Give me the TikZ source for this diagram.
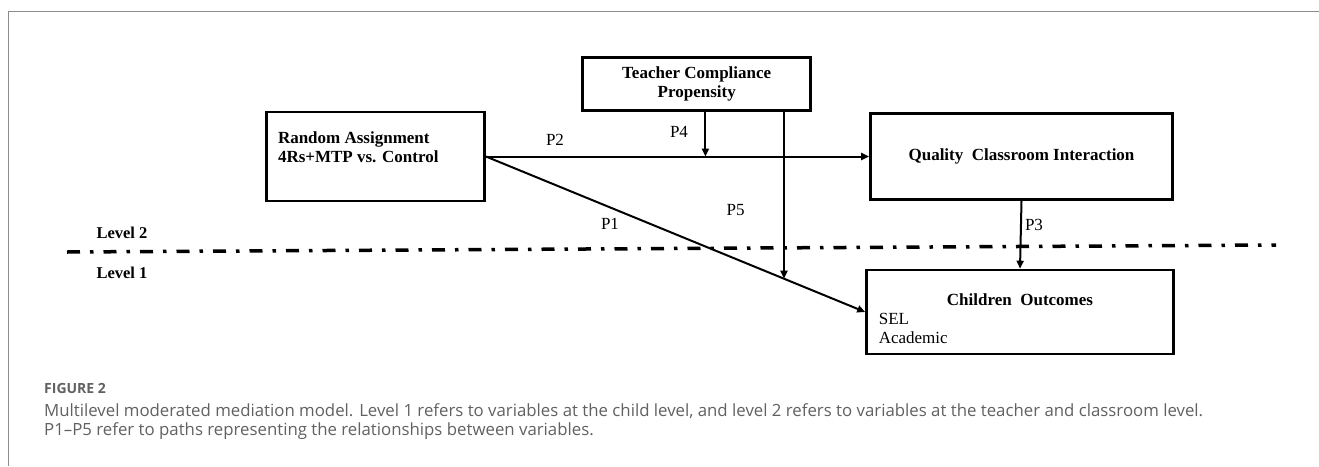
\documentclass[tikz,border=0pt]{standalone}
\usepackage{fontspec}
\setmainfont{Liberation Serif}
\newfontfamily\capfont{Open Sans}
\usepackage{tikz}
\usetikzlibrary{calc,arrows.meta,positioning}
\definecolor{framegrey}{gray}{0.55}
\definecolor{capgrey}{gray}{0.38}

\begin{document}
\begin{tikzpicture}[x=1pt,y=-1pt]

\tikzset{box/.style={draw=black,line width=2.6pt,inner sep=0pt,align=center,font=\fontsize{17}{19}\selectfont\bfseries},
boxtext/.style={inner sep=0pt,align=left,font=\fontsize{17}{19}\selectfont},
path/.style={line width=2pt,-{Triangle[length=8pt,width=7pt]}},
plabel/.style={inner sep=0pt,font=\fontsize{17}{19}\selectfont},
levellabel/.style={inner sep=0pt,font=\fontsize{16.5}{19}\selectfont\bfseries}}

\useasboundingbox[fill=white] (0,0) rectangle (1319,466);

% Frame
\draw[framegrey,line width=1.2pt] (8.5,466) -- (8.5,11.5) -- (1319,11.5);

% Boxes
\node[box,minimum width=218,minimum height=89] (ra) at (375.6,156.5) {};
\node[box,minimum width=228,minimum height=53] (tcp) at (696.7,84) {Teacher Compliance\\Propensity};
\node[box,minimum width=302,minimum height=86] (qci) at (1021.5,156.5) {Quality\ \ Classroom Interaction};
\node[box,minimum width=307,minimum height=84] (co) at (1020,312) {};

% Text in the boxes
\node[boxtext,anchor=west,font=\fontsize{17}{19}\selectfont\bfseries] (raText) at (277.8,147.5) {Random Assignment\\4Rs+MTP vs. Control};
\node[boxtext,font=\fontsize{17}{19}\selectfont\bfseries] (coTitle) at (1020,300) {Children\ \ Outcomes};
\node[boxtext,anchor=west] (coItems) at (878.6,328.5) {SEL\\Academic};

% Paths
\coordinate (p4end) at (705.4,156.5);
\coordinate (p5bot) at (784,400);
\coordinate (p5end) at (intersection of ra.east--co.west and {784,100}--p5bot);
\draw[path] (ra.east) -- (qci.west);
\draw[path] (ra.east) -- (co.west);
\draw[path] (tcp.south -| p4end) -- (p4end);
\draw[path] (tcp.south -| p5end) -- (p5end);
\draw[path] (qci.south) -- (co.north);

% Level divider
\coordinate (divL) at (67,252);
\coordinate (divR) at (1276,245);
\draw[line width=3.5pt,dash pattern=on 13pt off 10pt on 3.5pt off 10pt] (divL) -- (divR);
\node[levellabel] (lev2) at (122,233) {Level 2};
\node[levellabel] (lev1) at (122,273) {Level 1};

% Path labels
\foreach \lab/\x/\y in {P1/610/224, P2/555/140, P3/1034/225, P4/679/132, P5/735.7/210}
  \node[plabel] (\lab) at (\x,\y) {\lab};

% Caption
\node[anchor=base west,inner sep=0pt,text=capgrey,font=\capfont\bfseries\fontsize{14}{16}\selectfont] (figlabel) at (44,393) {FIGURE 2};
\node[anchor=north west,inner sep=0pt,align=left,text=capgrey,font=\capfont\fontsize{16.8}{18.5}\selectfont] (caption) at (44,403.5) {Multilevel moderated mediation model. Level 1 refers to variables at the child level, and level 2 refers to variables at the teacher and classroom level.\\P1–P5 refer to paths representing the relationships between variables.};

\end{tikzpicture}
\end{document}
